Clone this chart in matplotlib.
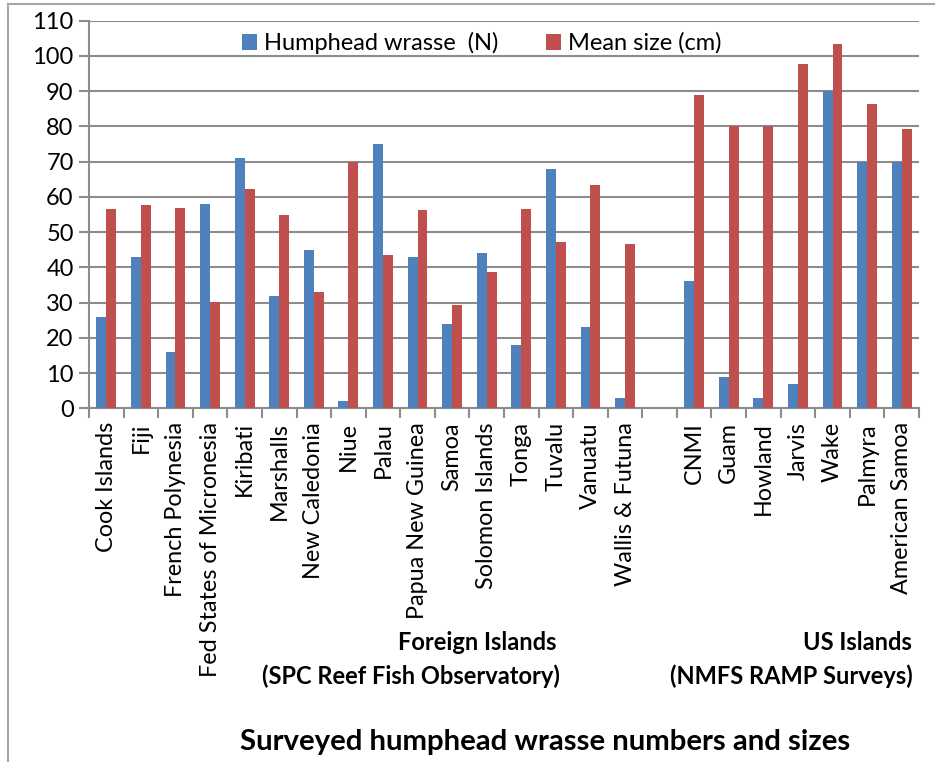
import numpy as np
import matplotlib.pyplot as plt

# Foreign islands (SPC Reef Fish Observatory)
foreign_sites = ['Cook Islands', 'Fiji', 'French Polynesia', 'Fed States of Micronesia',
                 'Kiribati', 'Marshalls', 'New Caledonia', 'Niue', 'Palau',
                 'Papua New Guinea', 'Samoa', 'Solomon Islands', 'Tonga', 'Tuvalu',
                 'Vanuatu', 'Wallis & Futuna']
foreign_count = [26, 43, 16, 58, 71, 32, 45, 2, 75, 43, 24, 44, 18, 68, 23, 3]
foreign_size = [56.7, 57.6, 56.9, 30.2, 62.2, 55.0, 33.0, 70.0, 43.4, 56.3, 29.3,
                38.7, 56.7, 47.3, 63.5, 46.6]

# US islands (NMFS RAMP surveys)
us_sites = ['CNMI', 'Guam', 'Howland', 'Jarvis', 'Wake', 'Palmyra', 'American Samoa']
us_count = [36, 9, 3, 7, 90, 70, 70]
us_size = [89.0, 80.1, 80.0, 97.6, 103.3, 86.3, 79.2]

y_ticks = list(range(0, 111, 10))

BLUE = '#4F81BD'
RED = '#C0504D'
GRID = '#8C8C8C'
FONT = 'Lato'

plt.rcParams['font.family'] = [FONT, 'DejaVu Sans']

# one empty slot between the two groups
labels = foreign_sites + [''] + us_sites
counts = foreign_count + [np.nan] + us_count
sizes = foreign_size + [np.nan] + us_size
x = np.arange(len(labels))

W, H = 935, 762
fig = plt.figure(figsize=(W / 100, H / 100), dpi=100)

# outer chart border (only left and top edges show)
fig.add_artist(plt.Line2D([8 / W, 8 / W], [0, 1 - 4 / H], transform=fig.transFigure,
                          color='#A6A6A6', lw=1.5))
fig.add_artist(plt.Line2D([8 / W, 1], [1 - 4 / H, 1 - 4 / H], transform=fig.transFigure,
                          color='#A6A6A6', lw=1.5))

left, right, top, bottom = 89, 919, 20.7, 408.3
ax = fig.add_axes([left / W, 1 - bottom / H, (right - left) / W, (bottom - top) / H])

bw = 1 / 3.5
ax.bar(x - bw / 2, counts, width=bw, color=BLUE, label='Humphead wrasse  (N)', zorder=3)
ax.bar(x + bw / 2, sizes, width=bw, color=RED, label='Mean size (cm)', zorder=3)

ax.set_xlim(-0.5, len(labels) - 0.5)
ax.set_ylim(0, 110)
ax.set_yticks(y_ticks)
ax.tick_params(axis='y', labelsize=17, length=7, width=1.5, color=GRID, pad=4)
ax.yaxis.grid(True, color=GRID, lw=1.5, zorder=0)

ax.set_xticks(x)
ax.set_xticklabels(labels, rotation=90, fontsize=16.8)
ax.tick_params(axis='x', length=0, pad=10)
ax.set_xticks(np.arange(-0.5, len(labels), 1), minor=True)
ax.tick_params(axis='x', which='minor', length=7, width=1.5, color=GRID)

for side in ['top', 'right']:
    ax.spines[side].set_visible(False)
for side in ['left', 'bottom']:
    ax.spines[side].set_color(GRID)
    ax.spines[side].set_linewidth(1.5)

fig.legend(loc='center', bbox_to_anchor=(482 / W, 1 - 43 / H), ncol=2, frameon=False,
           fontsize=17, handlelength=0.65, handleheight=0.65, handletextpad=0.3,
           columnspacing=2.0)

fig.text(556 / W, 1 - 643 / H, 'Foreign Islands', ha='right', va='center',
         fontsize=17, fontweight='bold')
fig.text(560 / W, 1 - 676 / H, '(SPC Reef Fish Observatory)', ha='right', va='center',
         fontsize=17, fontweight='bold')
fig.text(912 / W, 1 - 643 / H, 'US Islands', ha='right', va='center',
         fontsize=17, fontweight='bold')
fig.text(913 / W, 1 - 676 / H, '(NMFS RAMP Surveys)', ha='right', va='center',
         fontsize=17, fontweight='bold')
fig.text(545 / W, 1 - 742 / H, 'Surveyed humphead wrasse numbers and sizes',
         ha='center', va='center', fontsize=21.2, fontweight='bold')

fig.savefig('out.png', dpi=100)
